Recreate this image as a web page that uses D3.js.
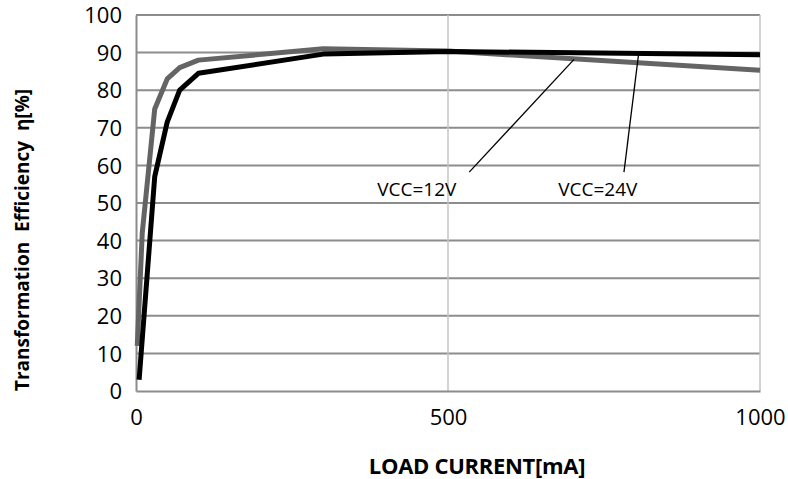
<!DOCTYPE html>
<html>
<head>
<meta charset="utf-8">
<script src="https://cdn.jsdelivr.net/npm/d3@7"></script>
<style>
  body { margin: 0; background: #fff; }
  text { font-family: "Open Sans", "Noto Sans", sans-serif; }
</style>
</head>
<body>
<svg width="788" height="479"></svg>
<script>
// data
var current12 = [2, 10, 30, 50, 70, 100, 300, 500, 1000];
var eff12     = [12, 42, 75, 83, 86, 88, 91, 90.4, 85.3];
var current24 = [5, 30, 50, 70, 100, 300, 500, 1000];
var eff24     = [3, 57, 71.5, 80, 84.5, 89.6, 90.3, 89.4];

var yTicks = [0, 10, 20, 30, 40, 50, 60, 70, 80, 90, 100];
var xTicks = [0, 500, 1000];

// annotations: label, text centre, leader start, leader end (data units)
var notes = [
  {label: "VCC=12V", tx: 450, ty: 53.5, x1: 534, y1: 58.2, x2: 702, y2: 88.2},
  {label: "VCC=24V", tx: 740, ty: 53.5, x1: 782, y1: 58.2, x2: 806, y2: 90.4}
];

var svg = d3.select("svg"),
    margin = {top: 15, right: 28, bottom: 88, left: 136},
    width = +svg.attr("width") - margin.left - margin.right,
    height = +svg.attr("height") - margin.top - margin.bottom;

var x = d3.scaleLinear().domain([0, 1000]).range([0, width]);
var y = d3.scaleLinear().domain([0, 100]).range([height, 0]);

var g = svg.append("g").attr("transform", "translate(" + margin.left + "," + margin.top + ")");

// horizontal grid
g.append("g")
  .selectAll("line")
  .data(yTicks.slice(1))
  .enter().append("line")
  .attr("x1", 0).attr("x2", width)
  .attr("y1", function(d) { return y(d); })
  .attr("y2", function(d) { return y(d); })
  .attr("stroke", "#8c8c8c")
  .attr("stroke-width", 2);

// vertical grid
g.append("g")
  .selectAll("line")
  .data(xTicks.slice(1))
  .enter().append("line")
  .attr("x1", function(d) { return x(d); })
  .attr("x2", function(d) { return x(d); })
  .attr("y1", 0).attr("y2", height)
  .attr("stroke", "#c4c4c4")
  .attr("stroke-width", 1.5);

// axes
var yAxis = g.append("g")
  .call(d3.axisLeft(y).tickValues(yTicks).tickSize(0).tickPadding(14));
var xAxis = g.append("g")
  .attr("transform", "translate(0," + height + ")")
  .call(d3.axisBottom(x).tickValues(xTicks).tickFormat(d3.format("d")).tickSize(0).tickPadding(22));

[yAxis, xAxis].forEach(function(a) {
  a.attr("font-size", 22).attr("font-family", "'Open Sans', sans-serif");
  a.select(".domain").attr("stroke", "#8c8c8c").attr("stroke-width", 2);
  a.selectAll("text").attr("fill", "#000");
});
yAxis.selectAll("text").attr("dy", "0.35em");
xAxis.selectAll("text").attr("dy", "0.55em");

// curves
var line = d3.line()
  .x(function(d) { return x(d[0]); })
  .y(function(d) { return y(d[1]); });

g.append("path")
  .datum(d3.zip(current12, eff12))
  .attr("d", line)
  .attr("fill", "none")
  .attr("stroke", "#646464")
  .attr("stroke-width", 5)
  .attr("stroke-linejoin", "round");

g.append("path")
  .datum(d3.zip(current24, eff24))
  .attr("d", line)
  .attr("fill", "none")
  .attr("stroke", "#000")
  .attr("stroke-width", 5)
  .attr("stroke-linejoin", "round");

// annotations
var note = g.append("g").selectAll("g").data(notes).enter().append("g");
note.append("line")
  .attr("x1", function(d) { return x(d.x1); })
  .attr("y1", function(d) { return y(d.y1); })
  .attr("x2", function(d) { return x(d.x2); })
  .attr("y2", function(d) { return y(d.y2); })
  .attr("stroke", "#000")
  .attr("stroke-width", 1.3);
note.append("text")
  .attr("x", function(d) { return x(d.tx); })
  .attr("y", function(d) { return y(d.ty); })
  .attr("text-anchor", "middle")
  .attr("dy", "0.35em")
  .attr("font-size", 19)
  .text(function(d) { return d.label; });

// axis titles
svg.append("text")
  .attr("x", 477)
  .attr("y", 466)
  .attr("text-anchor", "middle")
  .attr("dy", "0.35em")
  .attr("font-size", 22)
  .attr("font-weight", "bold")
  .attr("letter-spacing", "-0.3")
  .text("LOAD CURRENT[mA]");

svg.append("text")
  .attr("transform", "translate(22,240) rotate(-90)")
  .attr("text-anchor", "middle")
  .attr("dy", "0.35em")
  .attr("font-size", 19)
  .attr("font-weight", "bold")
  .style("white-space", "pre")
  .text("Transformation  Efficiency  η[%]");
</script>
</body>
</html>
